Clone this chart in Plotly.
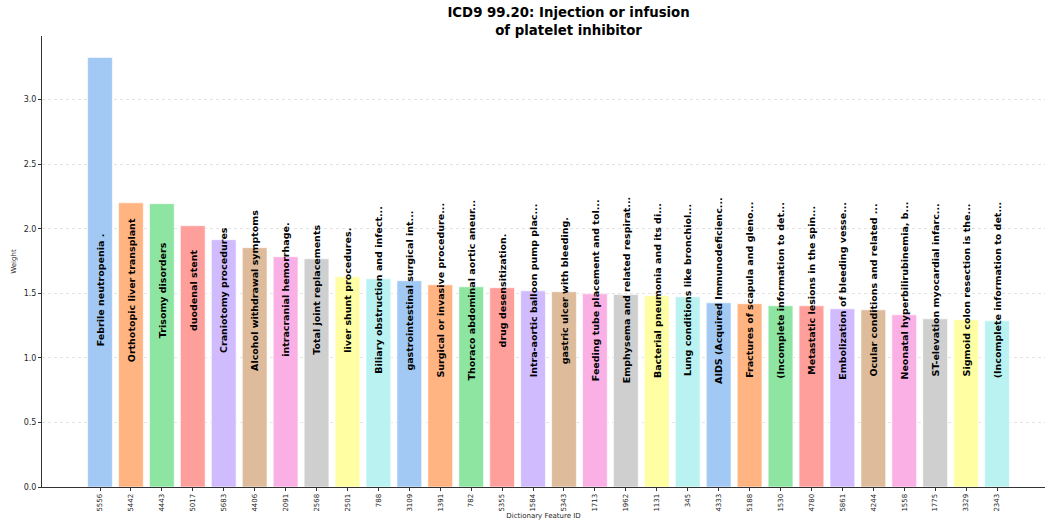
import plotly.graph_objects as go

feature_ids = ["5556", "5442", "4443", "5017", "5683", "4406", "2091", "2568", "2501", "788",
               "3109", "1391", "782", "5355", "1584", "5343", "1713", "1962", "1131", "345",
               "4333", "5188", "1530", "4780", "5861", "4244", "1558", "1775", "3329", "2343"]
weights = [3.326, 2.200, 2.194, 2.023, 1.915, 1.853, 1.783, 1.767, 1.628, 1.612,
           1.597, 1.566, 1.550, 1.543, 1.519, 1.512, 1.496, 1.490, 1.481, 1.473,
           1.426, 1.419, 1.403, 1.403, 1.380, 1.372, 1.333, 1.302, 1.295, 1.287]
labels = ["Febrile neutropenia .", "Orthotopic liver transplant", "Trisomy disorders",
          "duodenal stent", "Craniotomy procedures", "Alcohol withdrawal symptoms",
          "intracranial hemorrhage.", "Total joint replacements", "liver shunt procedures.",
          "Biliary obstruction and infect...", "gastrointestinal surgical int...",
          "Surgical or invasive procedure...", "Thoraco abdominal aortic aneur...",
          "drug desensitization.", "Intra-aortic balloon pump plac...",
          "gastric ulcer with bleeding.", "Feeding tube placement and tol...",
          "Emphysema and related respirat...", "Bacterial pneumonia and its di...",
          "Lung conditions like bronchiol...", "AIDS (Acquired Immunodeficienc...",
          "Fractures of scapula and gleno...", "(Incomplete information to det...",
          "Metastatic lesions in the spin...", "Embolization of bleeding vesse...",
          "Ocular conditions and related ...", "Neonatal hyperbilirubinemia, b...",
          "ST-elevation myocardial infarc...", "Sigmoid colon resection is the...",
          "(Incomplete information to det..."]
palette = ["#a1c9f4", "#ffb482", "#8de5a1", "#ff9f9b", "#d0bbff",
           "#debb9b", "#fab0e4", "#cfcfcf", "#fffea3", "#b9f2f0"]
label_y = 1.5

colors = [palette[i % len(palette)] for i in range(len(weights))]
xs = list(range(len(weights)))

fig = go.Figure()
fig.add_trace(go.Bar(
    x=xs, y=weights, width=0.8,
    marker=dict(color=colors, line=dict(color="rgba(255,255,255,0.6)", width=1)),
    showlegend=False, hoverinfo="skip",
))

for i, lab in enumerate(labels):
    fig.add_annotation(x=i, y=label_y, text="<b>" + lab + "</b>", textangle=-90,
                       showarrow=False, xref="x", yref="y", yshift=3,
                       font=dict(family="DejaVu Sans", size=9.5, color="black"))

fig.update_layout(
    width=1045, height=523,
    margin=dict(l=42, r=0, t=36, b=36, autoexpand=False),
    paper_bgcolor="white", plot_bgcolor="white",
    font=dict(family="DejaVu Sans", color="#262626"),
    title=dict(text="<b>ICD9 99.20: Injection or infusion<br>of platelet inhibitor</b>",
               x=0.525, xanchor="center", xref="paper", y=0.967, yref="container", yanchor="top",
               font=dict(family="DejaVu Sans", size=13.3, color="black")),
    xaxis=dict(
        range=[-1.875, 30.55], tickmode="array", tickvals=xs, ticktext=feature_ids,
        tickangle=-90, tickfont=dict(size=7, color="#262626"),
        ticks="outside", ticklen=3, tickcolor="#333333",
        showline=True, linecolor="#333333", linewidth=1, showgrid=False, zeroline=False,
        automargin=False,
        title=dict(text="Dictionary Feature ID", font=dict(size=7), standoff=2),
    ),
    yaxis=dict(
        range=[0, 3.492], tickmode="array", tickvals=[0, 0.5, 1.0, 1.5, 2.0, 2.5, 3.0],
        ticktext=["0.0", "0.5", "1.0", "1.5", "2.0", "2.5", "3.0"],
        tickfont=dict(size=8, color="#262626"),
        ticks="outside", ticklen=3, tickcolor="#333333",
        showline=True, linecolor="#333333", linewidth=1,
        showgrid=True, gridcolor="rgba(200,200,200,0.5)", griddash="dot", gridwidth=0.8,
        zeroline=False, automargin=False,
        title=dict(text="Weight", font=dict(size=7), standoff=6),
    ),
    bargap=0.2,
)

fig.write_html("out.html", config={"displayModeBar": False},
               post_script="document.body.style.margin='0';document.body.style.padding='0';")
